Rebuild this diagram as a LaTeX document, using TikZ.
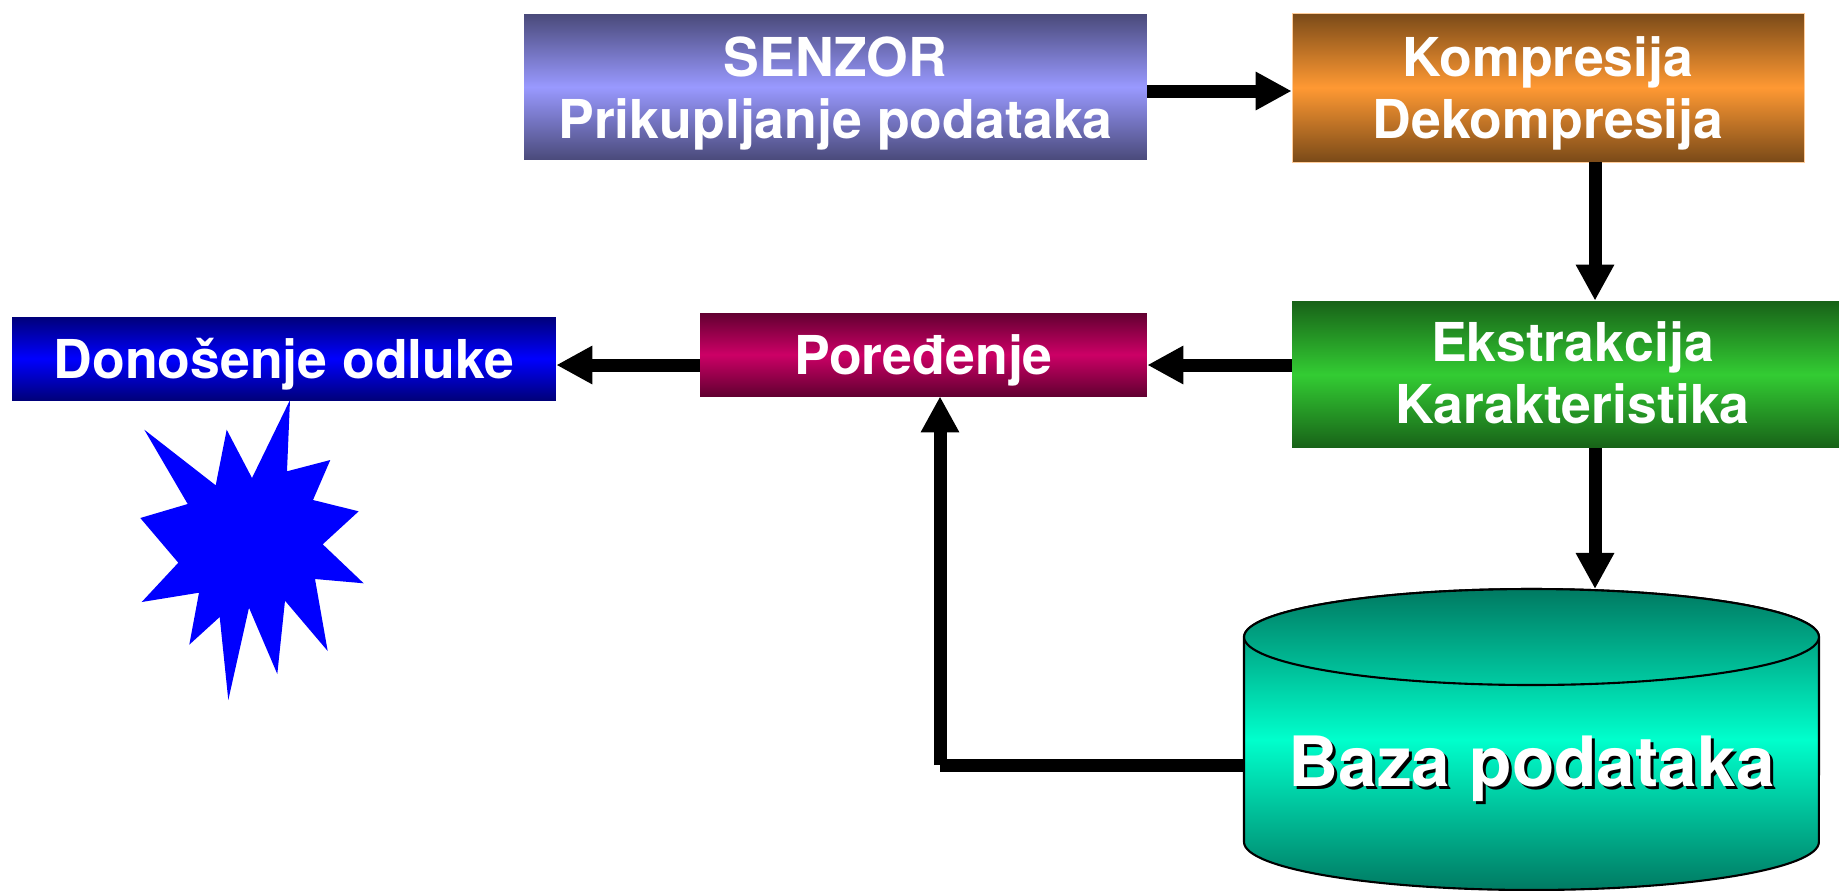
\documentclass[tikz,border=0pt]{standalone}
\usepackage{fontspec}
\setmainfont{TeX Gyre Heros}
\usetikzlibrary{arrows.meta}
\tikzset{
  blok/.style={inner sep=0pt},
  tekst/.style={inner sep=0pt,align=center,text=white,font=\fontsize{30.5}{35.3}\selectfont\bfseries},
  strelica/.style={line width=7.4pt,-{Triangle[length=20.5pt,width=20.5pt]}},
  linija/.style={line width=7.4pt},
  natpis/.style={inner sep=0pt,font=\fontsize{39.5}{44}\selectfont\bfseries}
}
\definecolor{senzorsvijetla}{HTML}{9999FF}
\definecolor{senzortamna}{HTML}{4A4A7A}
\definecolor{kompsvijetla}{HTML}{FF9933}
\definecolor{komptamna}{HTML}{7A4A18}
\definecolor{ekssvijetla}{HTML}{33CC33}
\definecolor{ekstamna}{HTML}{186218}
\definecolor{porsvijetla}{HTML}{CC0066}
\definecolor{portamna}{HTML}{620031}
\definecolor{donsvijetla}{HTML}{0000FF}
\definecolor{dontamna}{HTML}{00007A}
\definecolor{bazasvijetla}{HTML}{00FFCC}
\definecolor{bazatamna}{HTML}{007A62}
\begin{document}
\begin{tikzpicture}[x=.02cm,y=-.02cm]
      \useasboundingbox (0,0) rectangle (1839,890);
      \node[blok,minimum width=12.46cm,minimum height=2.92cm,top color=senzortamna,bottom color=senzortamna,middle color=senzorsvijetla] (sen) at (835.5,87) {};
      \node[blok,minimum width=10.24cm,minimum height=2.98cm,draw=kompsvijetla!50,top color=komptamna,bottom color=komptamna,middle color=kompsvijetla] (kom) at (1548,87.5) {};
      \node[blok,minimum width=10.94cm,minimum height=2.94cm,top color=ekstamna,bottom color=ekstamna,middle color=ekssvijetla] (eks) at (1565.5,374.5) {};
      \node[blok,minimum width=8.94cm,minimum height=1.66cm,top color=portamna,bottom color=portamna,middle color=porsvijetla] (por) at (923.5,354.5) {};
      \node[blok,minimum width=10.88cm,minimum height=1.66cm,top color=dontamna,bottom color=dontamna,middle color=donsvijetla] (don) at (284,358.5) {};
      \node[tekst] (sentekst) at (835.5,93) {SENZOR\\Prikupljanje podataka};
      \node[tekst] (komtekst) at (1548,93) {Kompresija\\Dekompresija};
      \node[tekst] (ekstekst) at (1572.5,372.5) {Ekstrakcija\\Karakteristika};
      \node[tekst] (portekst) at (923.5,360.5) {Poređenje};
      \node[tekst] (dontekst) at (284,364.5) {Donošenje odluke};
      \shade[draw=black,line width=1.2pt,top color=bazatamna,bottom color=bazatamna,middle color=bazasvijetla]
        (1244,637) -- (1244,842) arc[start angle=180,end angle=360,x radius=5.75cm,y radius=.96cm]
        -- (1819,637) arc[start angle=0,end angle=180,x radius=5.75cm,y radius=.96cm] -- cycle;
      \shade[draw=black,line width=1.2pt,top color=bazatamna,bottom color=bazasvijetla!80!black]
        (1531.5,637) ellipse[x radius=5.75cm,y radius=.96cm];
      \node[natpis,text=black] (sjena) at (1534.5,772) {Baza podataka};
      \node[natpis,text=white,minimum width=11.5cm] (baza) at (1531.5,769) {Baza podataka};
      \fill[donsvijetla] (290,400) -- (287,471.3) -- (330.3,460) -- (313,500) -- (358.7,511.3)
        -- (322.7,544.3) -- (363.7,583.3) -- (315,579) -- (327.7,651) -- (285,600.7)
        -- (277.3,674) -- (249,607.7) -- (228.3,700) -- (219.7,617) -- (189.3,644.7)
        -- (199,592.7) -- (141.7,602) -- (178.3,562.7) -- (140.3,518) -- (187.7,504)
        -- (144.3,429.7) -- (215.7,485.3) -- (226.7,429.7) -- (252,478) -- cycle;
      \coordinate (gore) at (0,91);
      \coordinate (sred) at (0,365);
      \coordinate (desno) at (1595,0);
      \coordinate (vrh) at (1595,589);
      \coordinate (lijevo) at (940,0);
      \coordinate (ugao) at (940,765);
      \begin{scope}[strelica]
        \draw (sen.east |- gore) to (kom.west |- gore);
        \draw (kom.south -| desno) to (eks.north -| desno);
        \draw (eks.south -| desno) to (vrh);
        \draw (eks.west |- sred) to (por.east |- sred);
        \draw (por.west |- sred) to (don.east |- sred);
        \draw (ugao) to (por.south -| lijevo);
      \end{scope}
      \draw[linija] (baza.west |- ugao) to (ugao);
    \end{tikzpicture}
\end{document}
